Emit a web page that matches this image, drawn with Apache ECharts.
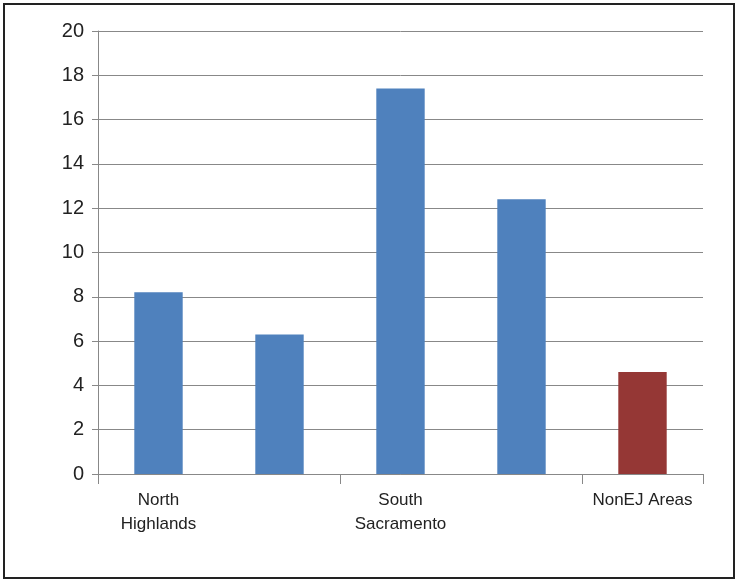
<!DOCTYPE html>
<html><head><meta charset="utf-8">
<script src="https://cdn.jsdelivr.net/npm/echarts@6/dist/echarts.min.js"></script>
<style>html,body{margin:0;padding:0;background:#fff}
#frame{position:absolute;left:3px;top:3px;width:728px;height:572px;border:2px solid #222;}
#c{position:absolute;left:0;top:0;width:737px;height:580px;}</style>
</head><body><div id="frame"></div><div id="c"></div>
<script>
const categories = ["North\nHighlands", "West Arden\nArcade", "South\nSacramento", "North\nVineyard", "NonEJ Areas"];
const values = [8.2, 6.3, 17.4, 12.4, 4.6];
const barColors = ["#4F81BD", "#4F81BD", "#4F81BD", "#4F81BD", "#953735"];
const chart = echarts.init(document.getElementById('c'));
chart.setOption({
  animation: false,
  grid: {left: 98, right: 34, top: 31, bottom: 106},
  xAxis: {type: 'category', data: categories, boundaryGap: true,
    axisLine: {lineStyle: {color: '#888'}},
    axisTick: {show: true, length: 10, lineStyle: {color: '#888'}},
    axisLabel: {color: '#222', fontSize: 17, fontFamily: 'Liberation Sans, Arial', lineHeight: 24, margin: 14}},
  yAxis: {type: 'value', min: 0, max: 20, interval: 2,
    axisLine: {show: true, lineStyle: {color: '#888'}},
    axisTick: {show: true, length: 6, lineStyle: {color: '#888'}},
    splitLine: {lineStyle: {color: '#888'}},
    axisLabel: {color: '#222', fontSize: 20, fontFamily: 'Liberation Sans, Arial', margin: 14}},
  series: [{type: 'bar', barWidth: '40%',
    data: values.map((v, i) => ({value: v, itemStyle: {color: barColors[i]}}))}]
});
</script></body></html>
